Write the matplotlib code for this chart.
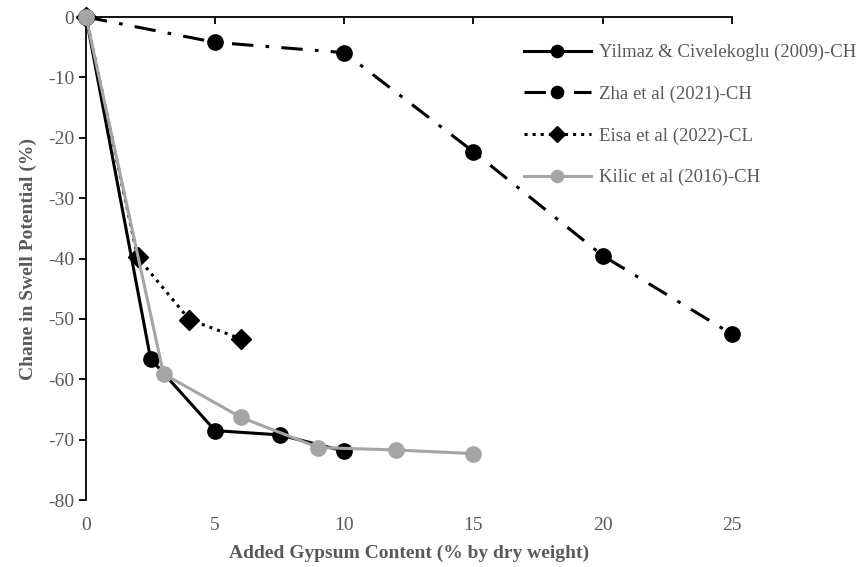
import matplotlib.pyplot as plt
import numpy as np

# data
yil_x = [0, 2.5, 5, 7.5, 10]
yil_y = [0, -56.6, -68.5, -69.2, -71.9]
zha_x = [0, 5, 10, 15, 20, 25]
zha_y = [0, -4.2, -5.9, -22.3, -39.5, -52.5]
eisa_x = [0, 2, 4, 6]
eisa_y = [0, -39.8, -50.1, -53.3]
kil_x = [0, 3, 6, 9, 12, 15]
kil_y = [0, -59.1, -66.3, -71.3, -71.7, -72.3]

labels = ["Yilmaz & Civelekoglu (2009)-CH", "Zha et al (2021)-CH",
          "Eisa et al (2022)-CL", "Kilic et al (2016)-CH"]
xticks = [0, 5, 10, 15, 20, 25]
yticks = [0, -10, -20, -30, -40, -50, -60, -70, -80]

plt.rcParams['font.family'] = ['Liberation Serif', 'DejaVu Serif']
gray_txt = '#595959'

fig = plt.figure(figsize=(8.62, 5.67), dpi=100)
ax = fig.add_axes([0.0998, 0.118, 0.749, 0.852])

ax.plot(yil_x, yil_y, color='black', lw=2.2, marker='o', ms=11, label=labels[0], zorder=3)
ax.plot(zha_x, zha_y, color='black', lw=2.2, marker='o', ms=11, dashes=(7, 4, 1.2, 4),
        label=labels[1], zorder=3)
ax.plot(eisa_x, eisa_y, color='black', lw=2.2, marker='D', ms=10, linestyle=':',
        label=labels[2], zorder=3)
ax.plot(kil_x, kil_y, color='#A5A5A5', lw=2.2, marker='o', ms=11, label=labels[3], zorder=4)

ax.set_xlim(0, 25)
ax.set_ylim(-80, 0)
ax.set_xticks(xticks)
ax.set_yticks(yticks)

ax.spines['right'].set_visible(False)
ax.spines['bottom'].set_visible(False)
ax.spines['top'].set_linewidth(1.3)
ax.spines['left'].set_linewidth(1.3)

ax.tick_params(axis='x', top=True, bottom=True, direction='in', length=5, width=1.3,
               labeltop=False, labelbottom=True, labelsize=14, labelcolor=gray_txt, pad=12)
for t in ax.xaxis.get_major_ticks():
    t.tick1line.set_visible(False)
ax.tick_params(axis='y', direction='out', length=5, width=1.3, labelsize=14,
               labelcolor=gray_txt)
ax.set_yticklabels([str(v) for v in yticks])

ax.set_xlabel('Added Gypsum Content (% by dry weight)', fontsize=14, fontweight='bold',
              color=gray_txt, labelpad=8)
ax.set_ylabel('Chane in Swell Potential (%)', fontsize=14, fontweight='bold',
              color=gray_txt, labelpad=8)

leg = ax.legend(loc='upper left', bbox_to_anchor=(0.588, 0.952), bbox_transform=fig.transFigure,
                frameon=False, fontsize=13.5, handlelength=3.6, labelspacing=1.3,
                handletextpad=0.4, markerscale=0.8)
for t in leg.get_texts():
    t.set_color(gray_txt)
for line in ax.get_lines():
    line.set_clip_on(False)

fig.savefig('out.png', dpi=100)
